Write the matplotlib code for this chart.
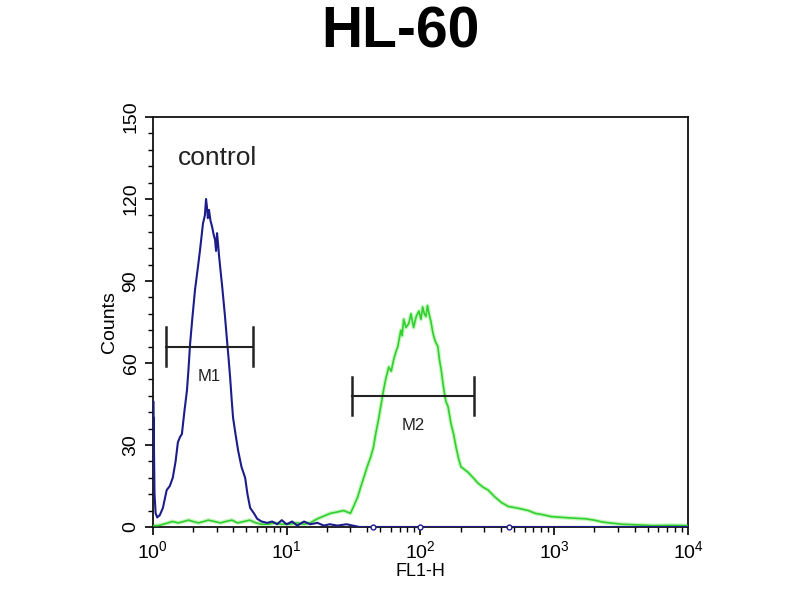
import matplotlib.pyplot as plt
import numpy as np
from matplotlib.ticker import MultipleLocator, LogLocator

plt.rcParams['font.family'] = ['Liberation Sans', 'DejaVu Sans']
plt.rcParams['mathtext.fontset'] = 'custom'
plt.rcParams['mathtext.rm'] = 'Liberation Sans'

# ============ date ============
# control (albastru)
blue_x = [1.0, 1.004, 1.008, 1.012, 1.016, 1.02, 1.03, 1.05, 1.08, 1.13,
          1.19, 1.27, 1.34, 1.41, 1.48, 1.54, 1.60, 1.65, 1.72, 1.80,
          1.85, 1.90, 1.98, 2.07, 2.16, 2.25, 2.31, 2.37, 2.45, 2.50,
          2.54, 2.58, 2.63, 2.70, 2.77, 2.85, 2.92, 2.97, 3.02, 3.07,
          3.13, 3.22, 3.30, 3.45, 3.59, 3.68, 3.78, 3.88, 3.98, 4.15,
          4.34, 4.60, 4.90, 5.10, 5.34, 5.70, 6.03, 6.50, 7.17, 7.8,
          8.5, 9.2, 10.0, 11.0, 12.0, 13.5, 15.0, 17.0, 19.0, 21.0,
          24.0, 28.0, 35.0, 44.0, 60.0, 100.0, 200.0, 460.0, 1000.0, 10000.0]
blue_y = [44, 20, 46, 26, 40, 30, 12, 5, 3.5, 4.4,
          7, 13.5, 15, 18, 24, 31, 33, 34, 42, 50,
          58, 67, 77, 87, 94, 101, 106, 111, 114, 120,
          117, 113, 116, 112, 110, 107, 105, 101, 107.5, 104,
          99, 93, 88, 78, 68, 62, 55, 47, 40, 34,
          28, 22, 18, 12, 7, 5, 3, 2, 1.5, 2,
          1, 2.5, 1, 2, 0.5, 2, 1, 1.5, 0.5, 1,
          0.5, 1, 0, 0, 0, 0, 0, 0, 0, 0]
blue_marks_x = [44, 100, 460]
blue_marks_y = [0, 0, 0]

# proba (verde)
green_x = [1.0, 1.1, 1.2, 1.3, 1.4, 1.55, 1.7, 1.85, 2.0, 2.2,
           2.4, 2.6, 2.9, 3.2, 3.5, 3.9, 4.3, 4.8, 5.3, 5.9,
           6.5, 7.3, 8.2, 9.2, 10.5, 12, 13.5, 15, 17, 19,
           21.3, 24, 26.7, 30, 32, 34, 36, 37.7, 40, 42.5,
           44.5, 46.3, 48.5, 50.5, 53, 55, 58, 60.5, 63, 65.5,
           67.8, 71.4, 73, 75, 78, 82, 85, 89, 93, 97.5,
           101, 104, 107, 110, 113, 116, 120, 124, 129, 135,
           139, 143, 147, 150, 155, 161, 169, 177, 185, 193,
           201, 214, 227, 248, 270, 295, 321, 360, 402, 454,
           520, 580, 641, 720, 820, 953, 1150, 1419, 1700, 1995,
           2300, 2690, 3200, 4000, 5500, 7500, 10000]
green_y = [0.5, 0.5, 1, 1.5, 2, 1.5, 2, 2.5, 2, 1.5,
           2, 2.5, 2, 1.5, 2, 2.5, 1.5, 2, 2.5, 1.5,
           1, 1, 1.5, 1, 1, 1.5, 1, 1.5, 3, 4,
           5, 5.5, 6, 5, 8, 11, 15, 18, 22, 25.6,
           29, 34, 39, 44, 50, 54, 58.5, 57, 61, 64,
           66, 72, 70, 76, 73, 74.5, 78, 73, 77, 79,
           76, 80.5, 78, 77, 81, 78, 75, 71, 68, 66,
           61, 57.5, 53, 50, 46, 44, 38, 34, 29, 25,
           22, 21, 20, 18, 16, 14.5, 13.5, 11, 9, 7.5,
           7, 6.5, 6, 5, 4.5, 3.8, 3.5, 3.2, 3, 2.5,
           1.8, 1.4, 1, 0.8, 0.5, 0.6, 0.5]

# markeri M1 / M2
gate_names = ['M1', 'M2']
gate_lo = [1.25, 31]
gate_hi = [5.6, 250]
gate_level = [66, 48]

# ============ afisare ============
fig = plt.figure(figsize=(8, 6), dpi=100)
ax = fig.add_axes([0.191, 0.1217, 0.669, 0.6833])

ax.plot(green_x, green_y, color='#c8f5c0', linewidth=3.0, zorder=2)
ax.plot(green_x, green_y, color='#2fd02f', linewidth=1.2, zorder=3)
ax.plot(blue_x, blue_y, color='#1c1c8a', linewidth=1.5, zorder=4)
ax.plot(blue_marks_x, blue_marks_y, linestyle='none', marker='o', markersize=3.5,
        markerfacecolor='white', markeredgecolor='#1c1c8a', markeredgewidth=1, zorder=5,
        clip_on=False)

for name, lo, hi, lvl in zip(gate_names, gate_lo, gate_hi, gate_level):
    ax.plot([lo, hi], [lvl, lvl], color='#222222', linewidth=1.5, zorder=6)
    ax.plot([lo, lo], [lvl - 7, lvl + 7], color='#222222', linewidth=1.8, zorder=6)
    ax.plot([hi, hi], [lvl - 7, lvl + 7], color='#222222', linewidth=1.8, zorder=6)
    ax.text(np.sqrt(lo * hi), lvl - 11, name, ha='center', va='center', fontsize=12,
            color='#222222', zorder=6)

ax.text(1.54, 135, 'control', fontsize=19, ha='left', va='center', color='#222222')

ax.set_xscale('log')
ax.set_xlim(1, 1e4)
ax.set_ylim(0, 150)
ax.yaxis.set_major_locator(MultipleLocator(30))
ax.yaxis.set_minor_locator(MultipleLocator(6))
ax.xaxis.set_major_locator(LogLocator(base=10))
ax.xaxis.set_minor_locator(LogLocator(base=10, subs=np.arange(2, 10)))

ax.tick_params(which='major', direction='out', length=6, width=1.2, labelsize=14)
ax.tick_params(which='minor', direction='out', length=3.5, width=1)
for lbl in ax.get_yticklabels():
    lbl.set_rotation(90)
    lbl.set_va('center')

for s in ax.spines.values():
    s.set_linewidth(1.3)
    s.set_color('#111111')

ax.set_xlabel('FL1-H', fontsize=13, labelpad=1)
ax.set_ylabel('Counts', fontsize=14, labelpad=3)

fig.suptitle('HL-60', fontsize=41, fontweight='bold', y=0.99)

plt.savefig('out.png', dpi=100)
